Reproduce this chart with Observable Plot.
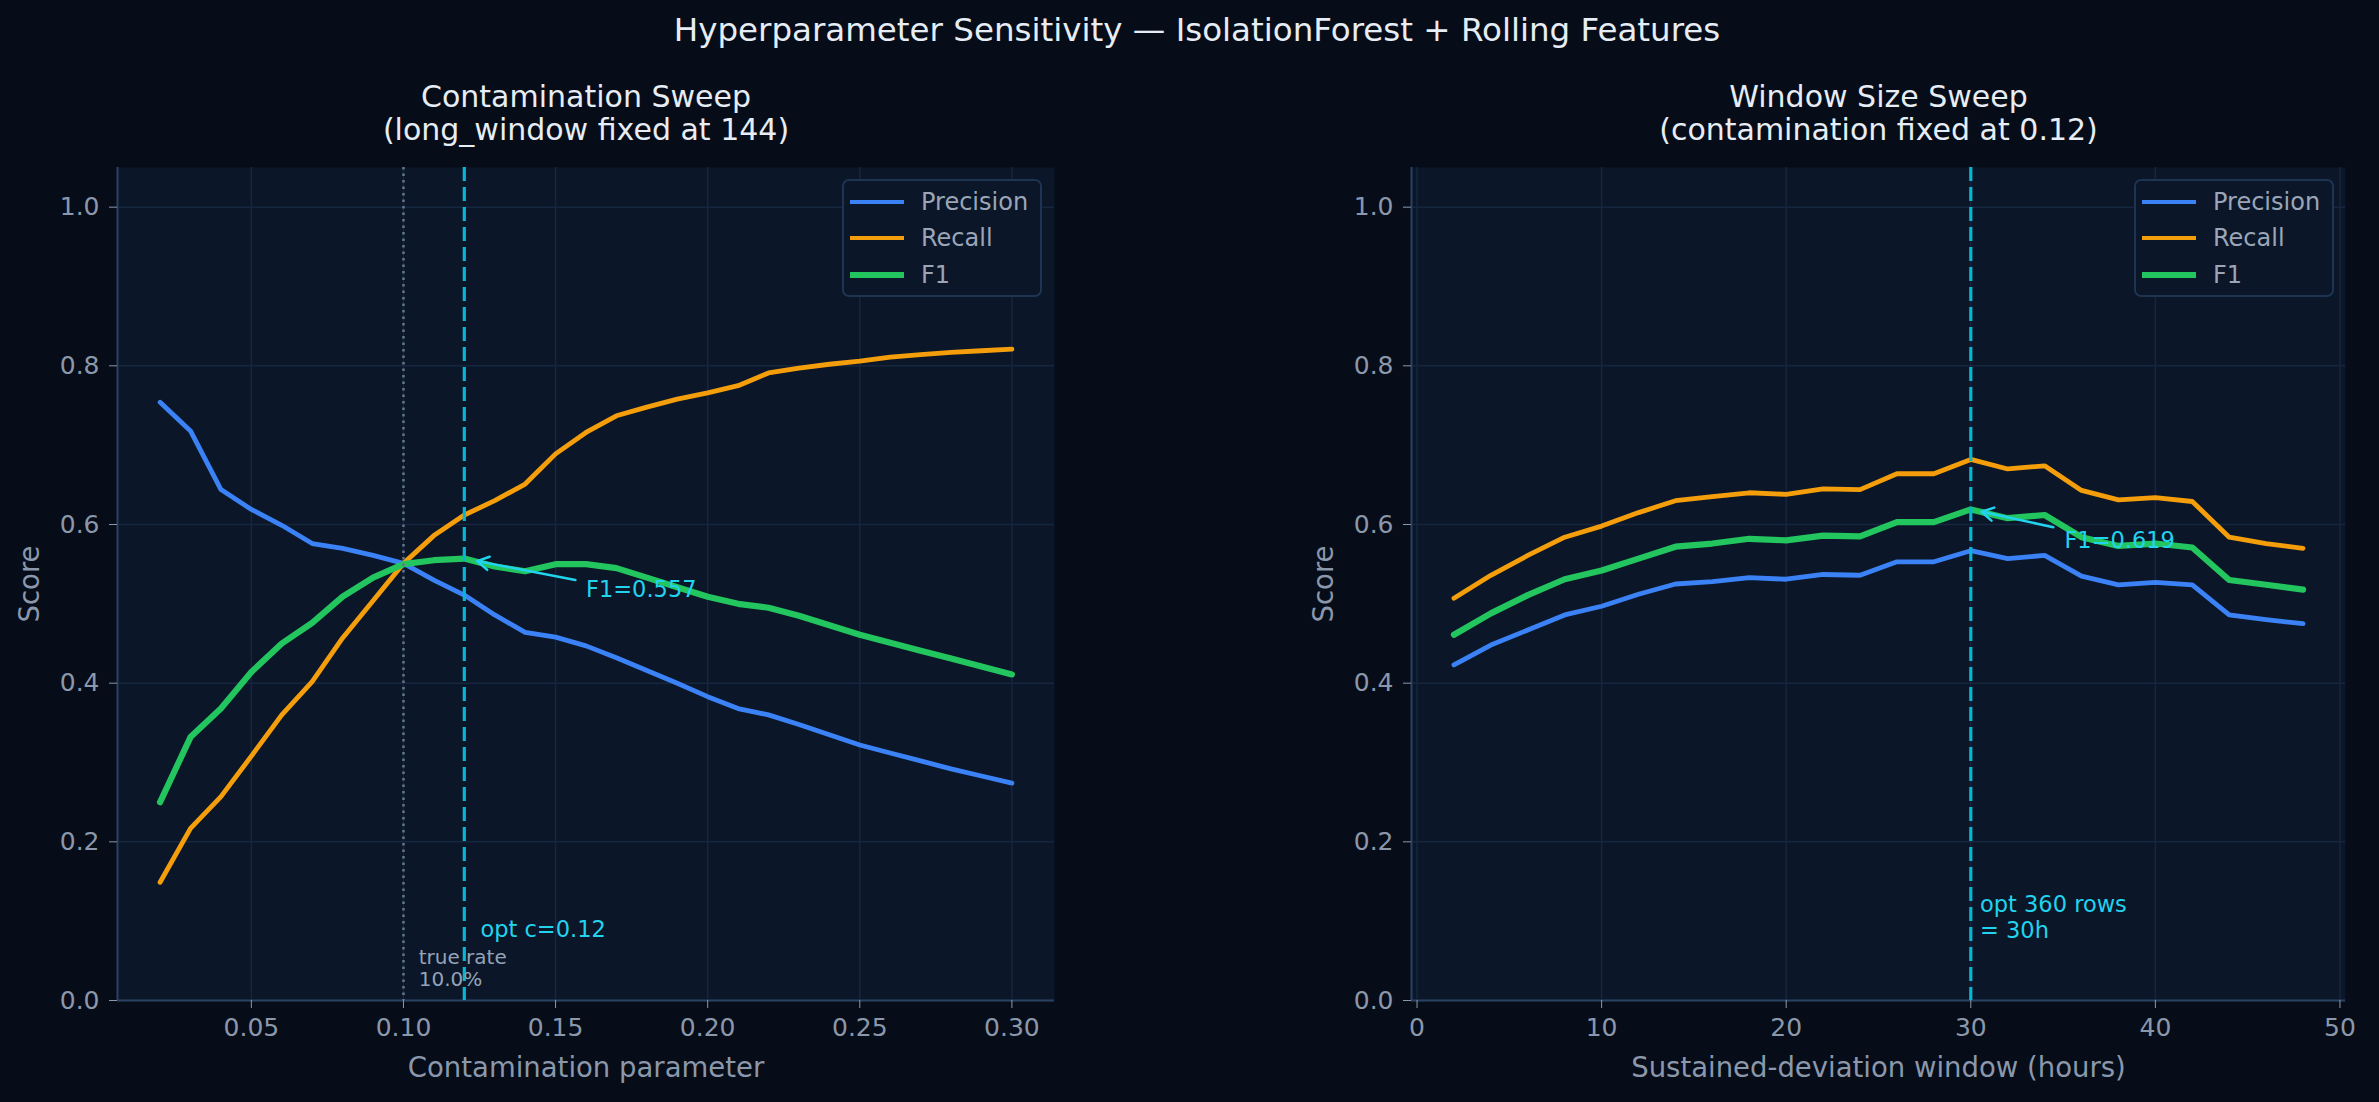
<!DOCTYPE html>
<html><head><meta charset="utf-8">
<script src="https://cdn.jsdelivr.net/npm/d3@7"></script>
<script src="https://cdn.jsdelivr.net/npm/@observablehq/plot@0.6"></script>
<style>
html,body{margin:0;padding:0;background:#060c18;}
body{width:2379px;height:1102px;position:relative;overflow:hidden;font-family:"DejaVu Sans",sans-serif;}
#suptitle{position:absolute;left:0;top:0;width:2394px;height:60px;line-height:60px;text-align:center;color:#e6edf5;font-size:32.5px;white-space:nowrap;}
.panel{position:absolute;top:60px;}
.legend{position:absolute;box-sizing:border-box;width:200px;height:118px;background:#0b1628;border:2px solid #1d3452;border-radius:7px;}
.legend .sw{position:absolute;left:6px;width:54px;}
.legend .lb{position:absolute;left:77px;height:30px;line-height:30px;font-size:24px;color:#9aa6b8;white-space:nowrap;}
</style>
</head><body>
<div id="suptitle">Hyperparameter Sensitivity — IsolationForest + Rolling Features</div>
<div id="left" class="panel" style="left:0px"></div>
<div id="right" class="panel" style="left:1189px"></div>
<script>
// ---------------- data ----------------
const seriesNames = ["Precision", "Recall", "F1"];
const seriesColors = ["#3b82f6", "#f59e0b", "#22c55e"];

const contamination = [0.02,0.03,0.04,0.05,0.06,0.07,0.08,0.09,0.10,0.11,0.12,0.13,0.14,0.15,0.16,0.17,0.18,0.19,0.20,0.21,0.22,0.23,0.24,0.25,0.26,0.27,0.28,0.29,0.30];
const precisionC = [0.754,0.718,0.644,0.619,0.599,0.576,0.570,0.561,0.551,0.530,0.511,0.486,0.464,0.458,0.447,0.432,0.416,0.400,0.383,0.368,0.360,0.348,0.335,0.322,0.312,0.302,0.292,0.283,0.274];
const recallC    = [0.149,0.217,0.257,0.308,0.360,0.402,0.457,0.504,0.551,0.586,0.612,0.630,0.651,0.689,0.716,0.737,0.748,0.758,0.766,0.775,0.791,0.797,0.802,0.806,0.811,0.814,0.817,0.819,0.821];
const f1C        = [0.250,0.332,0.368,0.414,0.450,0.476,0.509,0.533,0.550,0.555,0.557,0.547,0.541,0.550,0.550,0.545,0.533,0.521,0.509,0.500,0.495,0.485,0.473,0.461,0.451,0.441,0.431,0.421,0.411];

const windowHours = [2,4,6,8,10,12,14,16,18,20,22,24,26,28,30,32,34,36,38,40,42,44,46,48];
const precisionW = [0.423,0.448,0.467,0.486,0.497,0.512,0.525,0.528,0.533,0.531,0.537,0.536,0.553,0.553,0.567,0.557,0.561,0.535,0.524,0.527,0.524,0.486,0.480,0.475];
const recallW    = [0.507,0.536,0.561,0.584,0.598,0.615,0.630,0.635,0.640,0.638,0.645,0.644,0.664,0.664,0.682,0.670,0.674,0.643,0.631,0.634,0.629,0.584,0.576,0.570];
const f1W        = [0.461,0.488,0.511,0.531,0.542,0.557,0.572,0.576,0.582,0.580,0.586,0.585,0.603,0.603,0.619,0.608,0.612,0.584,0.573,0.576,0.571,0.530,0.524,0.518];

const yTicks = [0.0,0.2,0.4,0.6,0.8,1.0];
const xTicksC = [0.05,0.10,0.15,0.20,0.25,0.30];
const xTicksW = [0,10,20,30,40,50];

const optC = 0.12, optF1C = 0.557, trueRate = 0.10;
const optW = 30, optF1W = 0.619;

// annotation anchors (data coordinates)
const annC = {tx: 0.16, ty: 0.518, ax: 0.1565, ay: 0.530, label: "F1=0.557"};
const annW = {tx: 35.07, ty: 0.5795, ax: 34.47, ay: 0.5966, label: "F1=0.619"};
const optLabelC = {x: 0.1253, y: 0.089, label: "opt c=0.12"};
const trueLabelC = {x: 0.105, y: 0.041, label: "true rate\n10.0%"};
const optLabelW = {x: 30.5, y: 0.106, label: "opt 360 rows\n= 30h"};

// ---------------- style ----------------
const axBg = "#0b1628", gridC = "#16263e", spineC = "#2a4262";
const tickC = "#8b98ab", titleC = "#e6edf5", cyanLine = "#06b6d4", cyanText = "#22d3ee";
const lineW = [4.8, 4.8, 6.2];

function tidy(xs, arrs) {
  return seriesNames.flatMap((s, i) => xs.map((x, j) => ({x, y: arrs[i][j], series: s})));
}

function panel({xs, arrs, xDomain, xTicks, xFmt, xLabel, title, marginLeft, marginRight, width, extra}) {
  const data = tidy(xs, arrs);
  return Plot.plot({
    width, height: 1042,
    marginLeft, marginRight, marginTop: 107, marginBottom: 102,
    style: {background: "transparent", fontFamily: "DejaVu Sans", color: tickC, overflow: "visible"},
    x: {domain: xDomain},
    y: {domain: [0, 1.05]},
    marks: [
      Plot.frame({fill: axBg, stroke: "none"}),
      Plot.gridX(xTicks, {stroke: gridC, strokeOpacity: 1, strokeWidth: 1.5}),
      Plot.gridY(yTicks, {stroke: gridC, strokeOpacity: 1, strokeWidth: 1.5}),
      Plot.ruleX([xDomain[0]], {stroke: spineC, strokeWidth: 2}),
      Plot.ruleY([0], {stroke: spineC, strokeWidth: 2}),
      Plot.axisX({ticks: xTicks, tickFormat: xFmt, tickSize: 8, tickPadding: 10, fontSize: 25, stroke: tickC, fill: tickC, label: null}),
      Plot.axisY({ticks: yTicks, tickFormat: ".1f", tickSize: 8, tickPadding: 10, fontSize: 25, stroke: tickC, fill: tickC, label: null}),
      ...seriesNames.map((s, i) => Plot.line(data.filter(d => d.series === s), {x: "x", y: "y", stroke: seriesColors[i], strokeWidth: lineW[i]})),
      ...extra,
      Plot.text([xLabel], {frameAnchor: "bottom", dy: 68, textAnchor: "middle", lineAnchor: "middle", fontSize: 27.5, fill: tickC}),
      Plot.text(["Score"], {frameAnchor: "left", dx: -87, rotate: -90, textAnchor: "middle", lineAnchor: "middle", fontSize: 27.5, fill: tickC}),
      Plot.text([title], {frameAnchor: "top", dy: -54.5, textAnchor: "middle", lineAnchor: "middle", fontSize: 30, lineHeight: 1.1, fill: titleC})
    ]
  });
}

const left = panel({
  xs: contamination, arrs: [precisionC, recallC, f1C],
  xDomain: [0.006, 0.314], xTicks: xTicksC, xFmt: ".2f",
  xLabel: "Contamination parameter", title: "Contamination Sweep\n(long_window fixed at 144)",
  marginLeft: 117, marginRight: 135, width: 1189,
  extra: [
    Plot.ruleX([trueRate], {stroke: "#64748b", strokeWidth: 2.5, strokeDasharray: "2.5,4"}),
    Plot.ruleX([optC], {stroke: cyanLine, strokeWidth: 3.2, strokeDasharray: "14,6"}),
    Plot.arrow([annC], {x1: "ax", y1: "ay", x2: () => optC, y2: () => optF1C, stroke: cyanText, strokeWidth: 2.5, headLength: 8, insetEnd: 13}),
    Plot.text([annC], {x: "tx", y: "ty", text: "label", textAnchor: "start", fontSize: 22.5, fill: cyanText}),
    Plot.text([optLabelC], {x: "x", y: "y", text: "label", textAnchor: "start", fontSize: 22.5, fill: cyanText}),
    Plot.text([trueLabelC], {x: "x", y: "y", text: "label", textAnchor: "start", fontSize: 20, lineHeight: 1.1, fill: "#94a3b8"})
  ]
});

const right = panel({
  xs: windowHours, arrs: [precisionW, recallW, f1W],
  xDomain: [-0.3, 50.3], xTicks: xTicksW, xFmt: "d",
  xLabel: "Sustained-deviation window (hours)", title: "Window Size Sweep\n(contamination fixed at 0.12)",
  marginLeft: 222, marginRight: 34, width: 1190,
  extra: [
    Plot.ruleX([optW], {stroke: cyanLine, strokeWidth: 3.2, strokeDasharray: "14,6"}),
    Plot.arrow([annW], {x1: "ax", y1: "ay", x2: () => optW, y2: () => optF1W, stroke: cyanText, strokeWidth: 2.5, headLength: 8, insetEnd: 11}),
    Plot.text([annW], {x: "tx", y: "ty", text: "label", textAnchor: "start", fontSize: 22.5, fill: cyanText}),
    Plot.text([optLabelW], {x: "x", y: "y", text: "label", textAnchor: "start", fontSize: 22.5, lineHeight: 1.16, fill: cyanText})
  ]
});

document.getElementById("left").appendChild(left);
document.getElementById("right").appendChild(right);

function legend(leftPx) {
  const box = document.createElement("div");
  box.className = "legend";
  box.style.left = leftPx + "px";
  box.style.top = "179px";
  const rowCenters = [21, 57, 94];
  seriesNames.forEach((s, i) => {
    const sw = document.createElement("div");
    sw.className = "sw";
    sw.style.height = lineW[i] + "px";
    sw.style.top = (rowCenters[i] - lineW[i] / 2) + "px";
    sw.style.background = seriesColors[i];
    box.appendChild(sw);
    const lb = document.createElement("div");
    lb.className = "lb";
    lb.style.top = (rowCenters[i] - 15) + "px";
    lb.textContent = s;
    box.appendChild(lb);
  });
  document.body.appendChild(box);
}
legend(842);
legend(2134);
</script>
</body></html>
